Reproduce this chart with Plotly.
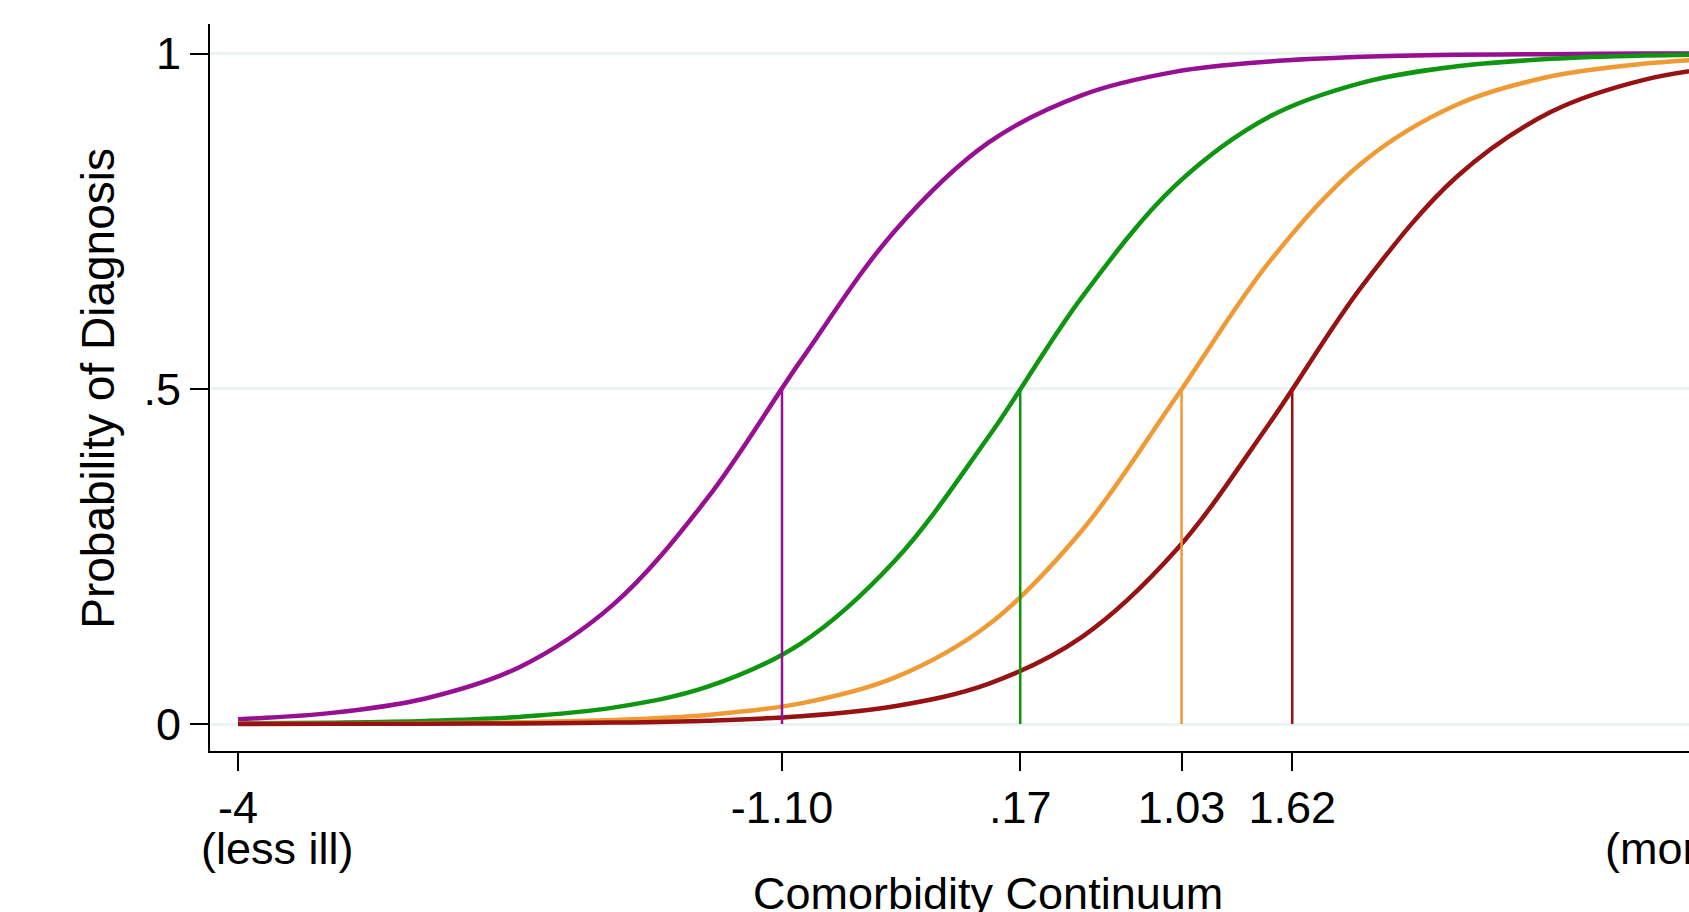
import plotly.graph_objects as go

# ---- data ----
x_vals = [-4.0, -3.5, -3.0, -2.5, -2.0, -1.5, -1.0, -0.5, 0.0, 0.5, 1.0, 1.5, 2.0, 2.5, 3.0, 3.5, 4.0]
p_purple = [0.0072, 0.0166, 0.0381, 0.0847, 0.178, 0.336, 0.542, 0.735, 0.867, 0.938, 0.973, 0.988, 0.995, 0.998, 0.999, 1.000, 1.000]
p_green = [0.0008, 0.0020, 0.0045, 0.0106, 0.0244, 0.0552, 0.120, 0.243, 0.428, 0.637, 0.804, 0.906, 0.957, 0.981, 0.992, 0.997, 0.999]
p_orange = [0.0002, 0.0005, 0.0011, 0.0025, 0.0058, 0.0134, 0.0307, 0.0691, 0.148, 0.289, 0.487, 0.690, 0.839, 0.924, 0.966, 0.985, 0.994]
p_red = [0.0001, 0.0002, 0.0004, 0.0009, 0.0021, 0.0050, 0.0115, 0.0265, 0.0599, 0.130, 0.259, 0.449, 0.656, 0.817, 0.913, 0.961, 0.983]
thresholds = [-1.10, 0.17, 1.03, 1.62]
threshold_p = [0.5, 0.5, 0.5, 0.5]

x_tick_vals = [-4, -1.10, 0.17, 1.03, 1.62, 4]
x_tick_text = ["-4", "-1.10", ".17", "1.03", "1.62", "4"]
y_tick_vals = [0, 0.5, 1]
y_tick_text = ["0", ".5", "1"]

x_title = "Comorbidity Continuum"
y_title = "Probability of Diagnosis"
left_note = "(less ill)"
right_note = "(more ill)"

# ---- styling ----
colors = ["#970f92", "#0e9611", "#ef9a35", "#971212"]
FONT = "Liberation Sans, Arial, sans-serif"
FS = 45
PLOT_L, PLOT_W = 210, 1479

series = [p_purple, p_green, p_orange, p_red]

fig = go.Figure()
for ys, c in zip(series, colors):
    fig.add_trace(go.Scatter(x=x_vals, y=ys, mode="lines",
                             line=dict(color=c, width=4.5, shape="spline", smoothing=1.0),
                             showlegend=False, hoverinfo="skip"))
for t, p, c in zip(thresholds, threshold_p, colors):
    fig.add_trace(go.Scatter(x=[t, t], y=[0, p], mode="lines",
                             line=dict(color=c, width=2.5),
                             showlegend=False, hoverinfo="skip"))

fig.update_layout(
    width=1689, height=912,
    margin=dict(l=PLOT_L, r=0, t=24, b=161),
    paper_bgcolor="white", plot_bgcolor="white",
    font=dict(family=FONT, size=FS, color="black"),
    xaxis=dict(range=[-4.1493, 3.735], tickvals=x_tick_vals, ticktext=x_tick_text,
               showgrid=False, zeroline=False, showline=True, linecolor="black", linewidth=2,
               ticks="outside", ticklen=18, tickwidth=2, tickcolor="black",
               tickfont=dict(family=FONT, size=FS, color="black"), ticklabelstandoff=-2),
    yaxis=dict(range=[-0.04027, 1.044], tickvals=y_tick_vals, ticktext=y_tick_text,
               showgrid=True, gridcolor="#eaf2f3", gridwidth=2.5, zeroline=False,
               showline=True, linecolor="black", linewidth=2,
               ticks="outside", ticklen=18, tickwidth=2, tickcolor="black",
               tickfont=dict(family=FONT, size=FS, color="black")),
    annotations=[
        dict(text=left_note, xref="paper", yref="paper", x=(199 - PLOT_L) / PLOT_W, y=-0.1335,
             xanchor="left", yanchor="middle",
             showarrow=False, font=dict(family=FONT, size=FS, color="black")),
        dict(text=right_note, xref="paper", yref="paper", x=(1782 - PLOT_L) / PLOT_W, y=-0.1335,
             xanchor="right", yanchor="middle",
             showarrow=False, font=dict(family=FONT, size=FS, color="black")),
        dict(text=x_title, xref="x", yref="paper", x=0.0, y=-0.158, xanchor="center", yanchor="top",
             showarrow=False, font=dict(family=FONT, size=FS, color="black")),
        dict(text=y_title, xref="paper", yref="y", x=(98 - PLOT_L) / PLOT_W, y=0.5,
             xanchor="center", yanchor="middle",
             textangle=-90, showarrow=False, font=dict(family=FONT, size=46, color="black")),
    ],
)

fig.write_html("out.html", config={"displayModeBar": False},
               post_script="document.body.style.margin='0';document.body.style.overflow='hidden';")
